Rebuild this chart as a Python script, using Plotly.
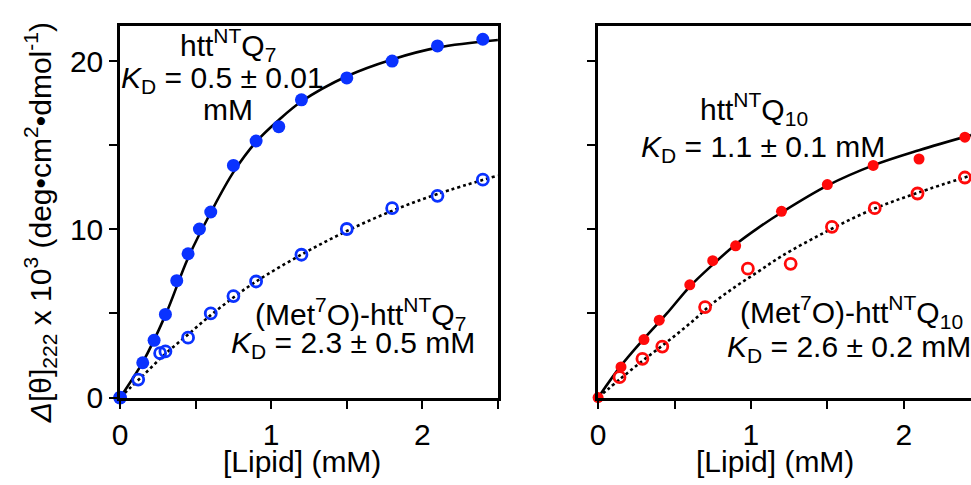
import plotly.graph_objects as go

# ---------------- data ----------------
# Left panel: htt^NT Q7 (filled) and (Met7O)-htt^NT Q7 (open)
q7_x = [0, 0.15, 0.225, 0.3, 0.375, 0.45, 0.525, 0.6, 0.75, 0.9, 1.05, 1.2, 1.5, 1.8, 2.1, 2.4]
q7_y = [0, 2.07, 3.4, 4.94, 6.95, 8.55, 10.02, 11.03, 13.8, 15.25, 16.1, 17.7, 19.0, 20.0, 20.9, 21.3]
q7ox_x = [0, 0.12, 0.265, 0.3, 0.45, 0.6, 0.75, 0.9, 1.2, 1.5, 1.8, 2.1, 2.4]
q7ox_y = [0, 1.07, 2.64, 2.74, 3.56, 5.0, 6.03, 6.9, 8.49, 10.02, 11.26, 11.99, 12.95]
# fit curves
q7_fit_x = [0, 0.15, 0.3, 0.45, 0.6, 0.75, 0.9, 1.05, 1.2, 1.5, 1.8, 2.1, 2.5]
q7_fit_y = [0, 2.1, 4.9, 8.3, 11.0, 13.4, 15.2, 16.5, 17.6, 19.1, 20.1, 20.8, 21.25]
q7ox_fit_x = [0, 0.15, 0.3, 0.45, 0.6, 0.75, 0.9, 1.2, 1.5, 1.8, 2.1, 2.5]
q7ox_fit_y = [0, 1.3, 2.6, 3.75, 4.9, 5.95, 6.9, 8.5, 9.9, 11.1, 12.1, 13.2]

# Right panel: htt^NT Q10 (filled) and (Met7O)-htt^NT Q10 (open)
q10_x = [0, 0.15, 0.3, 0.4, 0.6, 0.75, 0.9, 1.2, 1.5, 1.8, 2.1, 2.4]
q10_y = [0, 1.82, 3.45, 4.6, 6.7, 8.14, 9.02, 11.07, 12.66, 13.8, 14.18, 15.48]
q10ox_x = [0.14, 0.29, 0.42, 0.7, 0.98, 1.26, 1.53, 1.81, 2.09, 2.4]
q10ox_y = [1.21, 2.3, 3.03, 5.38, 7.66, 7.95, 10.15, 11.26, 12.13, 13.08]
q10_fit_x = [0, 0.15, 0.3, 0.45, 0.6, 0.75, 0.9, 1.05, 1.2, 1.5, 1.8, 2.1, 2.44]
q10_fit_y = [0, 1.9, 3.5, 5.0, 6.6, 7.9, 9.1, 10.1, 11.0, 12.6, 13.8, 14.7, 15.6]
q10ox_fit_x = [0, 0.15, 0.3, 0.45, 0.6, 0.75, 0.9, 1.05, 1.2, 1.5, 1.8, 2.1, 2.44]
q10ox_fit_y = [0, 1.15, 2.25, 3.3, 4.4, 5.6, 6.6, 7.5, 8.4, 9.9, 11.2, 12.2, 13.2]

x_major = [0, 1, 2]
x_minor = [0.5, 1.5, 2.5]
y_major = [0, 10, 20]
y_minor = [5, 15]
y_right_ticks = [5, 10, 15, 20]

BLUE = "#0a32ff"
RED = "#ff0a0a"
FONT = "Liberation Sans, Arial, Helvetica, sans-serif"
W, H = 971, 485

fig = go.Figure()

def add_panel(xa, ya, fit_x, fit_y, fitox_x, fitox_y, fx, fy, ox, oy, color, fsize, osize):
    fig.add_trace(go.Scatter(x=fitox_x, y=fitox_y, mode="lines", xaxis=xa, yaxis=ya,
                             line=dict(color="black", width=2.6, dash="dot", shape="spline"),
                             showlegend=False, hoverinfo="skip"))
    fig.add_trace(go.Scatter(x=fit_x, y=fit_y, mode="lines", xaxis=xa, yaxis=ya,
                             line=dict(color="black", width=2.6, shape="spline"),
                             showlegend=False, hoverinfo="skip"))
    fig.add_trace(go.Scatter(x=ox, y=oy, mode="markers", xaxis=xa, yaxis=ya, cliponaxis=False,
                             marker=dict(symbol="circle-open", size=osize, color=color,
                                         line=dict(width=2.8, color=color)),
                             showlegend=False))
    fig.add_trace(go.Scatter(x=fx, y=fy, mode="markers", xaxis=xa, yaxis=ya, cliponaxis=False,
                             marker=dict(symbol="circle", size=fsize, color=color,
                                         line=dict(width=0)),
                             showlegend=False))

add_panel("x", "y", q7_fit_x, q7_fit_y, q7ox_fit_x, q7ox_fit_y, q7_x, q7_y, q7ox_x, q7ox_y, BLUE, 13, 11)
add_panel("x2", "y2", q10_fit_x, q10_fit_y, q10ox_fit_x, q10ox_fit_y, q10_x, q10_y, q10ox_x, q10ox_y, RED, 11, 11)

tick_style = dict(ticks="outside", ticklen=8, tickwidth=2.4, tickcolor="black")
axis_common = dict(showgrid=False, zeroline=False, showline=True, linecolor="black", linewidth=2.6,
                   tickfont=dict(family=FONT, size=30, color="black"), **tick_style)

ydom = [(H - 412) / H, (H - 27) / H]
fig.update_layout(
    width=W, height=H, margin=dict(l=0, r=0, t=0, b=0),
    paper_bgcolor="white", plot_bgcolor="white",
    xaxis=dict(domain=[113 / W, 494 / W], range=[0, 2.5], tickvals=x_major,
               minor=dict(tickvals=x_minor, **tick_style),
               mirror=True, anchor="y", **axis_common),
    yaxis=dict(domain=ydom, range=[-0.05, 22.08], tickvals=y_major,
               minor=dict(tickvals=y_minor, **tick_style),
               mirror=True, anchor="x", **axis_common),
    xaxis2=dict(domain=[595 / W, 1.0], range=[0, 2.44], tickvals=x_major,
                minor=dict(tickvals=x_minor, **tick_style),
                mirror=True, anchor="y2", **axis_common),
    yaxis2=dict(domain=ydom, range=[-0.05, 22.08], tickvals=y_right_ticks, showticklabels=False,
                mirror=False, anchor="x2", **axis_common),
    showlegend=False,
)

def ann(text, px, py, size=30, angle=0):
    fig.add_annotation(text=text, x=px / W, y=1 - py / H, xref="paper", yref="paper",
                       xanchor="center", yanchor="middle", showarrow=False, textangle=angle,
                       font=dict(family=FONT, size=size, color="black"))

ann("htt<sup>NT</sup>Q<sub>7</sub>", 222, 47)
ann("<i>K</i><sub>D</sub> = 0.5 ± 0.01", 216, 82)
ann("mM", 222, 113)
ann("(Met<sup>7</sup>O)-htt<sup>NT</sup>Q<sub>7</sub>", 355, 325)
ann("<i>K</i><sub>D</sub> = 2.3 ± 0.5 mM", 348, 356)

ann("htt<sup>NT</sup>Q<sub>10</sub>", 752, 113)
ann("<i>K</i><sub>D</sub> = 1.1 ± 0.1 mM", 761, 154)
ann("(Met<sup>7</sup>O)-htt<sup>NT</sup>Q<sub>10</sub>", 851, 323)
ann("<i>K</i><sub>D</sub> = 2.6 ± 0.2 mM", 848, 360)

ann("[Lipid] (mM)", 296, 477, size=30)
ann("[Lipid] (mM)", 773, 477, size=30)
ann("<i>Δ</i>[θ]<sub>222</sub> x 10<sup>3</sup> (deg•cm<sup>2</sup>•dmol<sup>-1</sup>)", 33, 230, size=30, angle=-90)

fig.write_html("out.html")
